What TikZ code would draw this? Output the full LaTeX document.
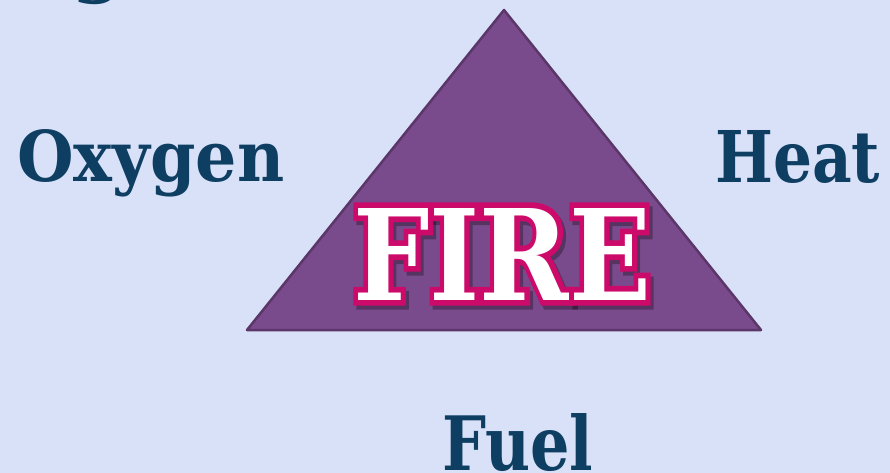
\documentclass[tikz,border=0pt]{standalone}
\usepackage{fontspec}
\newfontfamily\lblfont{DejaVu Serif}
\newfontfamily\firestroke{DejaVu Serif Bold}[FakeBold=9]
\definecolor{bgcol}{HTML}{D9E1F8}
\definecolor{trifill}{HTML}{7A4B8C}
\definecolor{triline}{HTML}{5B3669}
\definecolor{lblblue}{HTML}{0E3F63}
\definecolor{firemag}{HTML}{CC0A6A}
\tikzset{
  lbl/.style={anchor=base west, inner sep=0pt, text=lblblue, font=\lblfont\bfseries},
  firetxt/.style={anchor=base west, inner sep=0pt, font=\lblfont\bfseries},
}
\newcommand\fitword[3]{\resizebox{#1}{#2}{#3}}
\begin{document}
\begin{tikzpicture}[x=1pt,y=-1pt]
\useasboundingbox (0,0) rectangle (890,473);
\clip (0,0) rectangle (890,473);
\fill[bgcol] (0,0) rectangle (890,473);
% fragment of cut-off word at top
\node[lbl] (topg) at (72,-11) {\fontsize{73}{80}\selectfont g};
% triangle
\coordinate (apex) at (504,10);
\coordinate (bl) at (247,330);
\coordinate (br) at (761,330);
\draw[fill=trifill, draw=triline, line width=2.5pt, line join=round] (apex) -- (bl) -- (br) -- cycle;
% labels
\node[lbl] (oxy) at (17,181) {\fitword{267pt}{52pt}{Oxygen}};
\node[lbl] (heat) at (715,182) {\fitword{165pt}{52pt}{Heat}};
\node[lbl] (fuel) at (442,470) {\fitword{151pt}{57pt}{Fuel}};
% FIRE with shadow and outline
\node[firetxt, text=black, opacity=0.3] (fireshadow) at (356,304) {\fitword{298pt}{92pt}{\fontsize{100}{110}\firestroke FIRE}};
\node[firetxt, text=firemag] (fireout) at (353,300) {\fitword{298pt}{92pt}{\fontsize{100}{110}\firestroke FIRE}};
\node[firetxt, text=white] (fire) at (353,300) {\fitword{298pt}{92pt}{\fontsize{100}{110}\selectfont FIRE}};
\end{tikzpicture}
\end{document}
